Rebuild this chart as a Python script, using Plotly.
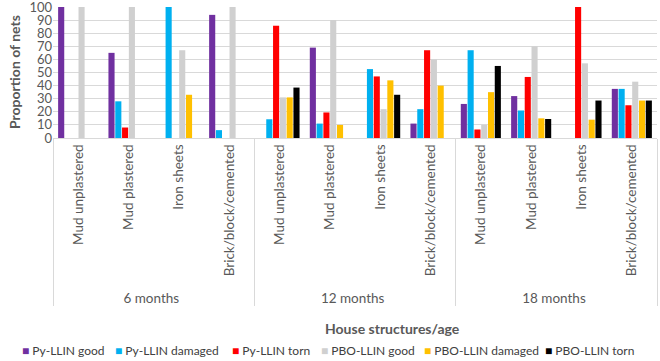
import plotly.graph_objects as go

ages = ["6 months"] * 4 + ["12 months"] * 4 + ["18 months"] * 4
structures = ["Mud unplastered", "Mud plastered", "Iron sheets", "Brick/block/cemented"] * 3

py_good = [100, 65, 0, 94, 0, 69, 0, 11, 26, 32, 0, 37.5]
py_damaged = [0, 28, 100, 6, 14.3, 11, 52.6, 22, 67, 21, 0, 37.5]
py_torn = [0, 8, 0, 0, 85.7, 19.5, 47, 67, 6.5, 46.6, 100, 25]
pbo_good = [100, 100, 67, 100, 31, 90, 22, 60, 10, 70, 57, 43]
pbo_damaged = [0, 0, 33, 0, 31, 10, 44, 40, 35, 15, 14, 28.6]
pbo_torn = [0, 0, 0, 0, 38.5, 0, 33, 0, 55, 14.5, 28.6, 28.6]

series_names = ["Py-LLIN good", "Py-LLIN damaged", "Py-LLIN torn",
                "PBO-LLIN good", "PBO-LLIN damaged", "PBO-LLIN torn"]
series_values = [py_good, py_damaged, py_torn, pbo_good, pbo_damaged, pbo_torn]
series_colors = ["#7030A0", "#00B0F0", "#FF0000", "#D0D0D0", "#FFC000", "#000000"]

# layout geometry (pixels)
W, H = 660, 361
ML, MR, MT, MB = 53, 3, 7, 223
PW, PH = W - ML - MR, H - MT - MB


def px_x(p):
    return (p - ML) / PW


def px_y(p):
    return (H - MB - p) / PH


legend_px = [20, 113, 230, 319, 422, 543]

fig = go.Figure()
for name, vals, col in zip(series_names, series_values, series_colors):
    fig.add_trace(go.Bar(x=[ages, structures], y=vals, name=name, marker_color=col,
                         marker_line_width=0))

font = "Lato, 'Open Sans', sans-serif"
fig.update_layout(
    width=W, height=H,
    margin=dict(l=ML, r=MR, t=MT, b=MB, autoexpand=False),
    paper_bgcolor="white", plot_bgcolor="white",
    barmode="group", bargap=0.19, bargroupgap=0.1,
    font=dict(family=font, size=13, color="#595959"),
    showlegend=False,
    yaxis=dict(range=[0, 100], tickvals=list(range(0, 101, 10)), showgrid=True,
               gridcolor="#D9D9D9", zeroline=False, showline=False, ticks="",
               ticklabeloverflow="allow",
               tickfont=dict(size=13, color="#595959"), automargin=False),
    xaxis=dict(type="multicategory", showline=True, linecolor="#D9D9D9",
               tickangle=-90, tickfont=dict(size=13.5, color="#595959"),
               showdividers=True, dividercolor="#D9D9D9", dividerwidth=1,
               ticks="", automargin=False),
)
fig.add_annotation(text="<b>Proportion of nets</b>", xref="paper", yref="paper",
                   x=px_x(14), y=px_y(72), textangle=-90, showarrow=False,
                   font=dict(size=14, color="#595959"), xanchor="center", yanchor="middle")
fig.add_annotation(text="<b>House structures/age</b>", xref="paper", yref="paper",
                   x=px_x(392), y=px_y(328), showarrow=False,
                   font=dict(size=14, color="#595959"), xanchor="center", yanchor="middle")
for name, col, lx in zip(series_names, series_colors, legend_px):
    fig.add_annotation(text=f"<span style='color:{col}'>■</span> {name}", xref="paper",
                       yref="paper", x=px_x(lx), y=px_y(350), showarrow=False,
                       xanchor="left", yanchor="middle",
                       font=dict(size=12, color="#404040"))
fig.write_html("out.html")
